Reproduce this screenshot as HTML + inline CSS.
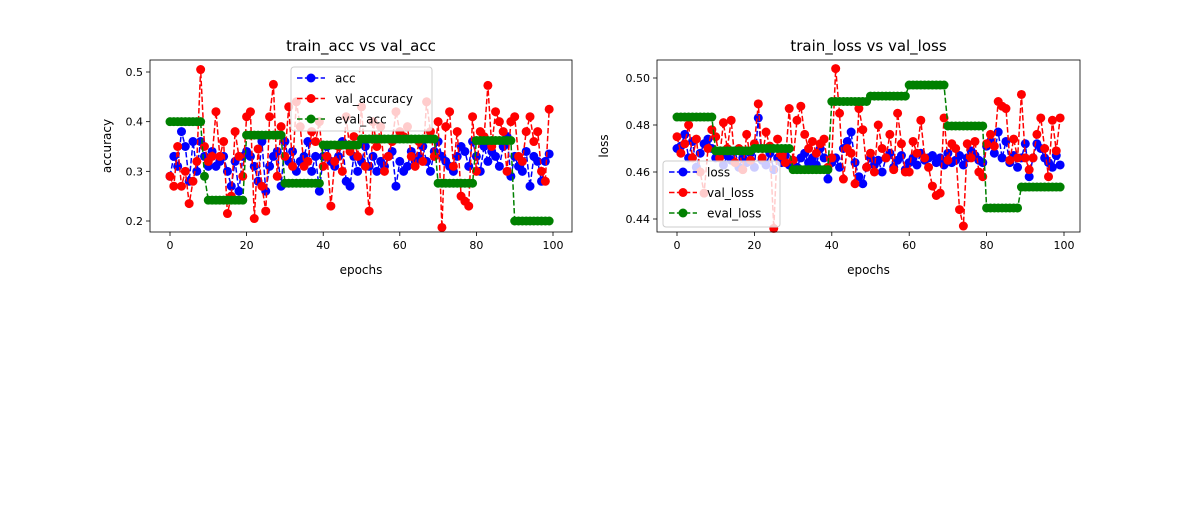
<!DOCTYPE html>
<html><head><meta charset="utf-8"><style>
body{margin:0;background:#fff;width:1200px;height:500px;overflow:hidden}
svg text{font-family:"DejaVu Sans","Liberation Sans",sans-serif;fill:#000}
</style></head><body>
<svg id="fig" width="1200" height="500" xmlns="http://www.w3.org/2000/svg"></svg>
<script>
const epochs = Array.from({length:100},(_,i)=>i);
const accVals = [0.29,0.33,0.31,0.38,0.35,0.28,0.36,0.30,0.36,0.33,0.31,0.34,0.31,0.32,0.33,0.30,0.27,0.32,0.26,0.33,0.34,0.33,0.31,0.28,0.36,0.26,0.31,0.33,0.34,0.27,0.36,0.32,0.34,0.30,0.32,0.33,0.36,0.30,0.33,0.26,0.33,0.35,0.32,0.31,0.33,0.36,0.28,0.27,0.33,0.30,0.32,0.35,0.31,0.33,0.30,0.32,0.31,0.33,0.34,0.27,0.32,0.30,0.31,0.34,0.32,0.33,0.35,0.32,0.30,0.34,0.36,0.33,0.32,0.31,0.30,0.33,0.35,0.34,0.31,0.36,0.33,0.30,0.35,0.32,0.34,0.33,0.31,0.35,0.37,0.29,0.33,0.31,0.30,0.34,0.27,0.33,0.32,0.28,0.32,0.335];
const valAccVals = [0.29,0.27,0.35,0.27,0.30,0.235,0.28,0.32,0.505,0.35,0.32,0.33,0.42,0.33,0.36,0.215,0.25,0.38,0.33,0.29,0.41,0.42,0.205,0.345,0.27,0.22,0.41,0.475,0.29,0.39,0.33,0.43,0.31,0.44,0.39,0.31,0.32,0.38,0.36,0.40,0.31,0.33,0.23,0.32,0.35,0.30,0.41,0.34,0.37,0.33,0.43,0.31,0.22,0.40,0.35,0.39,0.30,0.33,0.36,0.42,0.38,0.37,0.39,0.33,0.31,0.36,0.32,0.44,0.38,0.33,0.40,0.187,0.39,0.42,0.31,0.38,0.25,0.24,0.23,0.41,0.30,0.38,0.37,0.473,0.35,0.42,0.40,0.38,0.30,0.40,0.41,0.33,0.32,0.38,0.41,0.36,0.38,0.30,0.28,0.425];
const evalAccVals = [0.40,0.40,0.40,0.40,0.40,0.40,0.40,0.40,0.40,0.29,0.242,0.242,0.242,0.242,0.242,0.242,0.242,0.242,0.242,0.242,0.373,0.373,0.373,0.373,0.373,0.373,0.373,0.373,0.373,0.373,0.276,0.276,0.276,0.276,0.276,0.276,0.276,0.276,0.276,0.276,0.353,0.353,0.353,0.353,0.353,0.353,0.353,0.353,0.353,0.353,0.365,0.365,0.365,0.365,0.365,0.365,0.365,0.365,0.365,0.365,0.365,0.365,0.365,0.365,0.365,0.365,0.365,0.365,0.365,0.365,0.276,0.276,0.276,0.276,0.276,0.276,0.276,0.276,0.276,0.276,0.362,0.362,0.362,0.362,0.362,0.362,0.362,0.362,0.362,0.362,0.20,0.20,0.20,0.20,0.20,0.20,0.20,0.20,0.20,0.20];
const lossVals = [0.470,0.471,0.476,0.466,0.473,0.462,0.468,0.472,0.474,0.470,0.466,0.468,0.463,0.467,0.465,0.469,0.462,0.466,0.464,0.468,0.462,0.483,0.465,0.463,0.468,0.461,0.466,0.464,0.467,0.463,0.465,0.462,0.466,0.468,0.464,0.466,0.463,0.470,0.466,0.457,0.464,0.466,0.462,0.470,0.473,0.477,0.464,0.458,0.455,0.462,0.466,0.463,0.465,0.460,0.466,0.468,0.462,0.465,0.467,0.461,0.464,0.466,0.463,0.468,0.465,0.466,0.467,0.464,0.466,0.463,0.468,0.464,0.465,0.467,0.463,0.466,0.469,0.467,0.465,0.464,0.471,0.473,0.468,0.477,0.466,0.473,0.464,0.467,0.462,0.466,0.472,0.458,0.466,0.472,0.470,0.466,0.464,0.462,0.467,0.463];
const valLossVals = [0.475,0.468,0.472,0.480,0.466,0.474,0.460,0.451,0.470,0.478,0.475,0.466,0.481,0.470,0.482,0.464,0.470,0.461,0.476,0.465,0.472,0.489,0.466,0.477,0.471,0.436,0.474,0.467,0.464,0.487,0.465,0.482,0.488,0.476,0.470,0.473,0.468,0.472,0.474,0.462,0.466,0.504,0.485,0.457,0.470,0.468,0.455,0.487,0.478,0.462,0.468,0.460,0.480,0.470,0.466,0.476,0.461,0.485,0.472,0.460,0.460,0.473,0.468,0.482,0.466,0.462,0.454,0.450,0.451,0.483,0.465,0.472,0.470,0.444,0.437,0.472,0.466,0.473,0.460,0.458,0.472,0.476,0.471,0.490,0.488,0.487,0.465,0.474,0.466,0.493,0.466,0.461,0.466,0.476,0.483,0.470,0.458,0.482,0.469,0.483];
const evalLossVals = [0.4834,0.4834,0.4834,0.4834,0.4834,0.4834,0.4834,0.4834,0.4834,0.4834,0.469,0.469,0.469,0.469,0.469,0.469,0.469,0.469,0.469,0.469,0.470,0.470,0.470,0.470,0.470,0.470,0.470,0.470,0.470,0.470,0.461,0.461,0.461,0.461,0.461,0.461,0.461,0.461,0.461,0.461,0.490,0.490,0.490,0.490,0.490,0.490,0.490,0.490,0.490,0.490,0.4923,0.4923,0.4923,0.4923,0.4923,0.4923,0.4923,0.4923,0.4923,0.4923,0.497,0.497,0.497,0.497,0.497,0.497,0.497,0.497,0.497,0.497,0.4796,0.4796,0.4796,0.4796,0.4796,0.4796,0.4796,0.4796,0.4796,0.4796,0.4447,0.4447,0.4447,0.4447,0.4447,0.4447,0.4447,0.4447,0.4447,0.4536,0.4536,0.4536,0.4536,0.4536,0.4536,0.4536,0.4536,0.4536,0.4536,0.4536];
const xTicks = [0,20,40,60,80,100];
const accTicks = [0.2,0.3,0.4,0.5];
const lossTicks = [0.44,0.46,0.48,0.50];

const NS="http://www.w3.org/2000/svg";
const fig=document.getElementById('fig');
function mk(tag,attrs,parent){const e=document.createElementNS(NS,tag);for(const k in attrs)e.setAttribute(k,attrs[k]);(parent||fig).appendChild(e);return e;}

function panel(cfg){
  const g=mk('g',{});
  
  
  const L=cfg.L,R=cfg.R,T=60,B=232;
  const xs=v=>cfg.x0+(v-0)*(cfg.x100-cfg.x0)/100;
  const ys=v=>cfg.ya+(v-cfg.va)*(cfg.yb-cfg.ya)/(cfg.vb-cfg.va);
  xTicks.forEach(t=>{
    const x=xs(t);
    const tk=mk('line',{x1:x,x2:x,y1:B,y2:B+4,stroke:'#000','stroke-width':0.8},g);
    
    
    const tx=mk('text',{x:x,y:B+17,'text-anchor':'middle','font-size':11},g);
    
    
    tx.textContent=t;
  });
  cfg.yTicks.forEach(t=>{
    const y=ys(t);
    const tk=mk('line',{x1:L-4,x2:L,y1:y,y2:y,stroke:'#000','stroke-width':0.8},g);
    
    
    const tx=mk('text',{x:L-7,y:y+4,'text-anchor':'end','font-size':11},g);
    
    
    tx.textContent=t.toFixed(cfg.dec);
  });
  const colors=['#0000ff','#ff0000','#008000'];
  cfg.series.forEach((s,si)=>{
    const sg=mk('g',{},g);
    
    
    const pts=s.map((v,i)=>xs(epochs[i]).toFixed(1)+','+ys(v).toFixed(1)).join(' ');
    const pl=mk('polyline',{points:pts,fill:'none',stroke:colors[si],'stroke-width':1.5,'stroke-dasharray':'5.5,2.4'},sg);
    
    
    s.forEach((v,i)=>{
      const c=mk('circle',{cx:xs(epochs[i]),cy:ys(v),r:4.5,fill:colors[si]},sg);
      
      
    });
  });
  const fr=mk('rect',{x:L,y:T,width:R-L,height:B-T,fill:'none',stroke:'#000','stroke-width':0.8},g);
  
  
  const ti=mk('text',{x:(L+R)/2,y:51,'text-anchor':'middle','font-size':15},g);
  
  
  ti.textContent=cfg.title;
  const xl=mk('text',{x:(L+R)/2,y:274,'text-anchor':'middle','font-size':12},g);
  
  
  xl.textContent='epochs';
  const yl=mk('text',{x:0,y:0,'text-anchor':'middle','font-size':12,transform:`translate(${cfg.ylx},${(T+B)/2}) rotate(-90)`},g);
  
  
  yl.textContent=cfg.ylabel;
  const lg=mk('g',{},g);
  
  
  const [lx,ly,lw,lh]=cfg.legend;
  mk('rect',{x:lx,y:ly,width:lw,height:lh,rx:3,fill:'#fff','fill-opacity':0.8,stroke:'#ccc','stroke-width':1},lg);
  cfg.labels.forEach((lab,i)=>{
    const e=mk('g',{},lg);
    
    
    const yy=ly+11+i*20.5;
    mk('line',{x1:lx+6,x2:lx+34,y1:yy,y2:yy,stroke:colors[i],'stroke-width':1.5,'stroke-dasharray':'5.5,2.4'},e);
    mk('circle',{cx:lx+20,cy:yy,r:4.5,fill:colors[i]},e);
    const t=mk('text',{x:lx+44,y:yy+4.5,'font-size':12},e);
    t.textContent=lab;
  });
}
panel({name:'accuracy-chart',L:150,R:572,x0:170,x100:553,ya:221,va:0.2,yb:72,vb:0.5,yTicks:accTicks,dec:1,
  series:[accVals,valAccVals,evalAccVals],labels:['acc','val_accuracy','eval_acc'],title:'train_acc vs val_acc',ylabel:'accuracy',ylx:111,legend:[291,67,141,64]});
panel({name:'loss-chart',L:657,R:1080,x0:677,x100:1064,ya:219,va:0.44,yb:78,vb:0.50,yTicks:lossTicks,dec:2,
  series:[lossVals,valLossVals,evalLossVals],labels:['loss','val_loss','eval_loss'],title:'train_loss vs val_loss',ylabel:'loss',ylx:608,legend:[663,161,117,66]});
</script>
</body></html>
